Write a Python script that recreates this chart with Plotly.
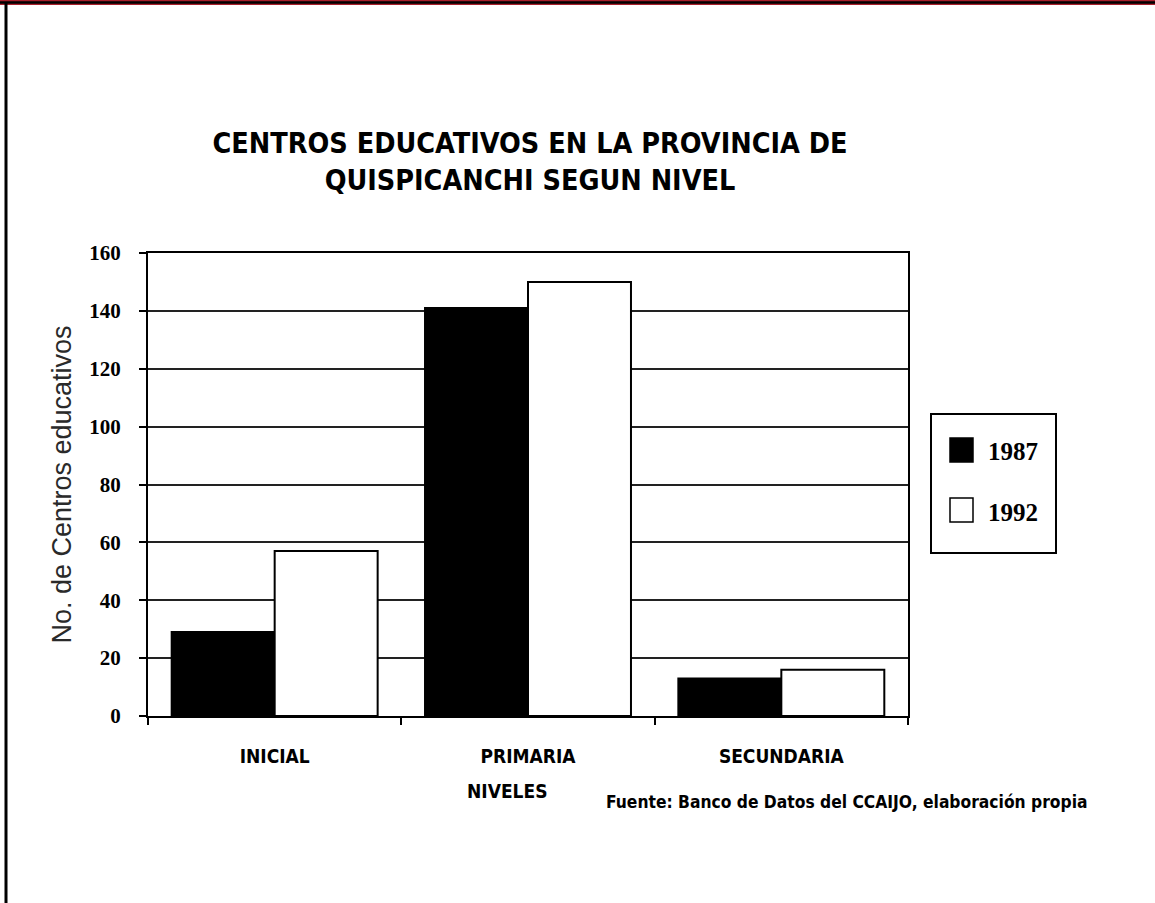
import plotly.graph_objects as go

# Data
niveles = ["INICIAL", "PRIMARIA", "SECUNDARIA"]
anios = ["1987", "1992"]
centros_1987 = [29, 141, 13]
centros_1992 = [57, 150, 16]
y_ticks = [0, 20, 40, 60, 80, 100, 120, 140, 160]

W, H = 1155, 903
L, R, T, B = 148, 908, 253, 716  # plot area in pixels

def px(x):
    return (x - L) / (R - L)

def py(y):
    return (B - y) / (B - T)

SANS_N = "Liberation Sans Narrow, DejaVu Sans Condensed, Arial Narrow, sans-serif"
SERIF = "Liberation Serif, Times New Roman, serif"

fig = go.Figure()
fig.add_trace(go.Bar(
    x=niveles, y=centros_1987, name=anios[0],
    marker=dict(color="black", line=dict(color="black", width=2)),
    showlegend=False,
))
fig.add_trace(go.Bar(
    x=niveles, y=centros_1992, name=anios[1],
    marker=dict(color="white", line=dict(color="black", width=2)),
    showlegend=False,
))

shapes = []
# page frame: red/black band on top, black rule on the left
shapes.append(dict(type="rect", xref="paper", yref="paper",
                   x0=px(0), x1=px(W), y0=py(0), y1=py(5),
                   fillcolor="#a8202c", line=dict(width=0), layer="above"))
shapes.append(dict(type="line", xref="paper", yref="paper",
                   x0=px(0), x1=px(W), y0=py(2.5), y1=py(2.5),
                   line=dict(color="black", width=2.5), layer="above"))
shapes.append(dict(type="line", xref="paper", yref="paper",
                   x0=px(6), x1=px(6), y0=py(2), y1=py(H),
                   line=dict(color="black", width=3), layer="above"))

# legend box and swatches
shapes.append(dict(type="rect", xref="paper", yref="paper",
                   x0=px(931), x1=px(1056), y0=py(414), y1=py(553),
                   fillcolor="white", line=dict(color="black", width=2)))
shapes.append(dict(type="rect", xref="paper", yref="paper",
                   x0=px(950), x1=px(973), y0=py(438), y1=py(462),
                   fillcolor="black", line=dict(color="black", width=1.5)))
shapes.append(dict(type="rect", xref="paper", yref="paper",
                   x0=px(950), x1=px(973), y0=py(498), y1=py(522),
                   fillcolor="white", line=dict(color="black", width=1.5)))

annotations = [
    dict(text=anios[0], xref="paper", yref="paper", x=px(986), y=py(451),
         xanchor="left", yanchor="middle", showarrow=False,
         font=dict(family=SERIF, size=25, color="black", weight="bold")),
    dict(text=anios[1], xref="paper", yref="paper", x=px(986), y=py(512),
         xanchor="left", yanchor="middle", showarrow=False,
         font=dict(family=SERIF, size=25, color="black", weight="bold")),
    dict(text="NIVELES", xref="paper", yref="paper", x=px(507), y=py(791),
         xanchor="center", yanchor="middle", showarrow=False,
         font=dict(family=SANS_N, size=19, color="black", weight="bold")),
    dict(text="Fuente: Banco de Datos del CCAIJO, elaboración propia",
         xref="paper", yref="paper", x=px(604), y=py(802),
         xanchor="left", yanchor="middle", showarrow=False,
         font=dict(family=SANS_N, size=17.3, color="black", weight="bold")),
]

fig.update_layout(
    width=W, height=H,
    margin=dict(l=L, r=W - R, t=T, b=H - B, pad=0),
    paper_bgcolor="white", plot_bgcolor="white",
    barmode="group", bargap=0.187, bargroupgap=0,
    title=dict(
        text="CENTROS EDUCATIVOS EN LA PROVINCIA DE<br>QUISPICANCHI SEGUN NIVEL",
        xref="container", x=530 / W, xanchor="center",
        y=1 - 153 / H, yanchor="middle",
        font=dict(family=SANS_N, size=28.5, color="black", weight="bold"),
    ),
    xaxis=dict(
        showline=True, linecolor="black", linewidth=2, mirror=True,
        ticks="outside", tickson="boundaries", ticklen=7, tickwidth=2,
        tickcolor="black", showgrid=False,
        tickfont=dict(family=SANS_N, size=19, color="black", weight="bold"),
        ticklabelstandoff=22,
    ),
    yaxis=dict(
        range=[0, 160], tickvals=y_ticks,
        showline=True, linecolor="black", linewidth=2, mirror=True,
        ticks="outside", ticklen=7, tickwidth=2, tickcolor="black",
        showgrid=True, gridcolor="#222222", gridwidth=2, zeroline=False,
        tickfont=dict(family=SERIF, size=21, color="black", weight="bold"),
        ticklabelstandoff=14,
        title=dict(text="No. de Centros educativos", standoff=10,
                   font=dict(family="Liberation Sans, Arial, sans-serif",
                             size=27, color="#2a2a2a")),
    ),
    shapes=shapes,
    annotations=annotations,
)

fig.write_html("out.html")
